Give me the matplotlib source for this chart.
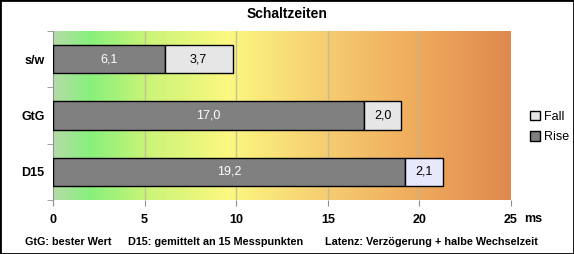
import numpy as np
import matplotlib
matplotlib.use("Agg")
import matplotlib.pyplot as plt
from matplotlib.colors import LinearSegmentedColormap
from matplotlib.patches import Rectangle

categories = ["s/w", "GtG", "D15"]
rise = [6.1, 17.0, 19.2]
fall = [3.7, 2.0, 2.1]
fall_colors = ["#e6e6e6", "#e6e6e6", "#e8e8fc"]
xticks = [0, 5, 10, 15, 20, 25]
footer = ["GtG: bester Wert", "D15: gemittelt an 15 Messpunkten",
          "Latenz: Verzögerung + halbe Wechselzeit"]

plt.rcParams['font.family'] = ['Liberation Sans', 'DejaVu Sans']

fig = plt.figure(figsize=(5.74, 2.54), dpi=100)
ax = fig.add_axes([53/574, 1 - 200/254, 458/574, 169/254])

# background gradient
cmap = LinearSegmentedColormap.from_list("bg", [
    (0.0, "#b4dca8"), (0.08, "#88f07c"), (0.2, "#c8f478"),
    (0.38, "#fcf880"), (0.6, "#f6cc70"), (0.8, "#eeaa5c"), (1.0, "#e0884e")])
grad = np.linspace(0, 1, 256).reshape(1, -1)
ax.imshow(grad, cmap=cmap, extent=[0, 25, 2.5, -0.5], aspect="auto", zorder=0)

for x in xticks[1:-1]:
    ax.axvline(x, color="#b8b8a0", lw=1, alpha=0.8, zorder=1)

y = np.arange(len(categories))
ax.barh(y, rise, height=0.5, color="#808080", edgecolor="black", lw=1,
        label="Rise", zorder=3)
ax.barh(y, fall, left=rise, height=0.5, color=fall_colors, edgecolor="black",
        lw=1, label="Fall", zorder=3)

for i in range(len(categories)):
    ax.text(rise[i] / 2, y[i], f"{rise[i]:.1f}".replace(".", ","), color="white",
            ha="center", va="center", fontsize=9, zorder=4)
    ax.text(rise[i] + fall[i] / 2, y[i], f"{fall[i]:.1f}".replace(".", ","),
            color="black", ha="center", va="center", fontsize=9, zorder=4)

ax.set_xlim(0, 25)
ax.set_ylim(2.5, -0.5)
ax.set_xticks(xticks)
ax.set_xticklabels([str(t) for t in xticks], fontsize=9, fontweight="bold")
ax.set_yticks(y)
ax.set_yticklabels(categories, fontsize=9, fontweight="bold")
ax.set_yticks([-0.5, 0.5, 1.5, 2.5], minor=True)
ax.tick_params(axis="y", which="major", length=0, pad=6)
ax.tick_params(axis="y", which="minor", length=4, color="#909090")
ax.tick_params(axis="x", length=4, color="#909090", pad=6)
for s in ["top", "right", "bottom"]:
    ax.spines[s].set_visible(False)
ax.spines["left"].set_color("#909090")

fig.text(533/574, 1 - 219/254, "ms", fontsize=9, fontweight="bold",
         ha="center", va="center")
fig.text(0.5, 1 - 14/254, "Schaltzeiten", fontsize=10, fontweight="bold",
         ha="center", va="center")

handles, labels = ax.get_legend_handles_labels()
leg = fig.legend(handles[::-1], labels[::-1], loc="center left",
                 bbox_to_anchor=(524/574, 1 - 127/254), frameon=False,
                 fontsize=9, handlelength=0.8, handleheight=0.8,
                 handletextpad=0.3, labelspacing=0.7, borderpad=0)
leg.legend_handles[0].set_facecolor("#e6e6e6")

xs = [25, 128, 325]
for x, t in zip(xs, footer):
    fig.text(x/574, 1 - 242/254, t, fontsize=7.8, fontweight="bold",
             ha="left", va="center")

fig.patches.append(Rectangle((0, 0), 1, 1, transform=fig.transFigure,
                             fill=False, edgecolor="black", lw=2))

fig.savefig("out.png", dpi=100)
